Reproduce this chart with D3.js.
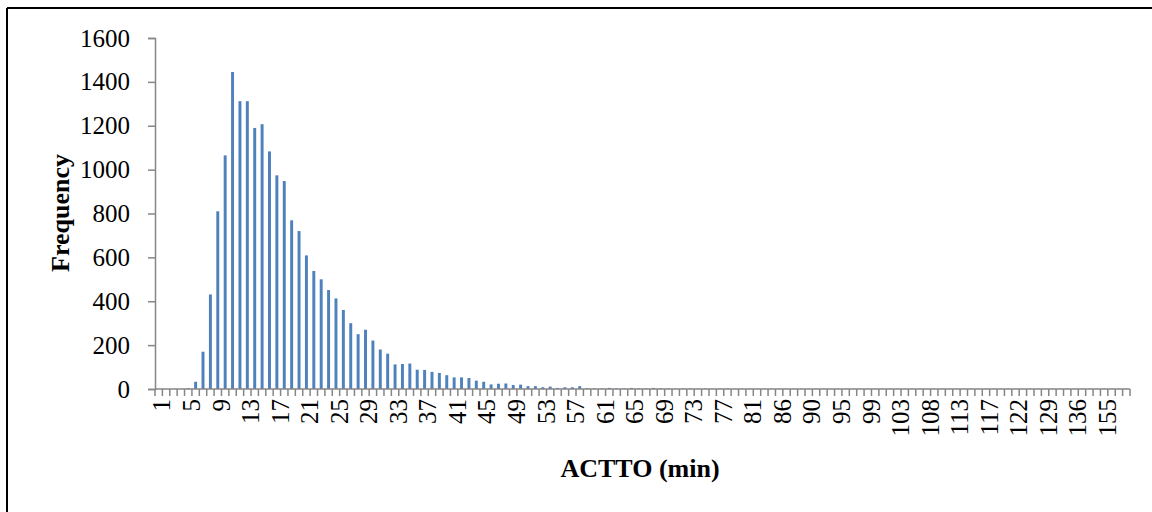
<!DOCTYPE html>
<html>
<head>
<meta charset="utf-8">
<script src="https://cdn.jsdelivr.net/npm/d3@7"></script>
<style>
html, body { margin: 0; padding: 0; background: #fff; }
svg { display: block; }
</style>
</head>
<body>
<svg id="chart" width="1152" height="512"></svg>
<script>
// ---- data ----
const categories = [
  1,2,3,4,5,6,7,8,9,10,11,12,13,14,15,16,17,18,19,20,
  21,22,23,24,25,26,27,28,29,30,31,32,33,34,35,36,37,38,39,40,
  41,42,43,44,45,46,47,48,49,50,51,52,53,54,55,56,57,58,59,60,
  61,62,63,64,65,66,67,68,69,70,71,72,73,74,75,76,77,78,79,80,81,
  82,83,84,86, 87,88,89,90, 91,92,93,95, 96,97,98,99,
  100,101,102,103, 104,105,107,108, 109,110,111,113, 114,115,116,117,
  118,119,120,122, 123,125,127,129, 130,132,134,136, 139,143,148,155,
  160,168,181
];
const frequency = [
  0,0,0,0,4,33,170,431,810,1065,1445,1312,1312,1190,1207,1083,974,948,769,720,
  609,538,500,451,413,360,300,250,270,221,180,161,112,114,116,88,87,78,73,63,
  53,53,50,38,33,21,24,25,18,20,13,13,8,11,5,8,8,13,4,3,
  2,5,3,2,5,2,2,5,3,2,1,2,2,1,2,1,1,2,1,1,1,
  1,1,1,1, 1,1,1,1, 1,1,1,1, 1,1,1,1,
  1,1,1,1, 1,1,1,1, 1,1,1,1, 1,1,1,1,
  1,1,1,1, 1,1,1,1, 1,1,1,1, 1,1,1,1,
  1,1,1
];
const yTicks = [0,200,400,600,800,1000,1200,1400,1600];
const xTitle = "ACTTO (min)";
const yTitle = "Frequency";

// ---- layout ----
const svg = d3.select("#chart");
const mLeft = 155, mRight = 1130, mTop = 38, mBottom = 389;
const axisColor = "#868686";
const font = "'Liberation Serif', 'Times New Roman', serif";

// frame (top and left edges visible)
svg.append("line").attr("x1", 7).attr("x2", 1152).attr("y1", 8).attr("y2", 8)
  .attr("stroke", "#000").attr("stroke-width", 2);
svg.append("line").attr("x1", 7).attr("x2", 7).attr("y1", 8).attr("y2", 512)
  .attr("stroke", "#000").attr("stroke-width", 2);

const xb = d3.scaleBand().domain(categories.map(String)).range([mLeft, mRight]).padding(0);
const y = d3.scaleLinear().domain([0, 1600]).range([mBottom, mTop]);

// bars
svg.append("g").selectAll("rect").data(categories).join("rect")
  .attr("x", (d) => xb(String(d)) + xb.bandwidth() * 0.3)
  .attr("width", xb.bandwidth() * 0.4)
  .attr("y", (d, i) => y(frequency[i]))
  .attr("height", (d, i) => y(0) - y(frequency[i]))
  .attr("fill", "#4F81BD");

// y axis
const yAxis = d3.axisLeft(y).tickValues(yTicks).tickSize(7).tickPadding(18).tickFormat(d3.format("d"));
const gy = svg.append("g").attr("transform", `translate(${mLeft},0)`).call(yAxis);
gy.select(".domain").attr("stroke", axisColor).attr("stroke-width", 1.5);
gy.selectAll(".tick line").attr("stroke", axisColor).attr("stroke-width", 1.5);
gy.selectAll(".tick text").attr("font-family", font).attr("font-size", 25).attr("fill", "#000");

// x axis: tick marks at category boundaries
const boundaries = categories.map((c) => xb(String(c))).concat([mRight]);
const gx = svg.append("g");
gx.append("line").attr("x1", mLeft).attr("x2", mRight).attr("y1", mBottom).attr("y2", mBottom)
  .attr("stroke", axisColor).attr("stroke-width", 1.5);
gx.selectAll("line.tk").data(boundaries).join("line").attr("class", "tk")
  .attr("x1", (d) => d).attr("x2", (d) => d).attr("y1", mBottom).attr("y2", mBottom + 7)
  .attr("stroke", axisColor).attr("stroke-width", 1.5);
// labels every 4th category
const labeled = categories.filter((c, i) => i % 4 === 0);
gx.selectAll("text").data(labeled).join("text")
  .attr("transform", (d) => `translate(${xb(String(d)) + xb.bandwidth() / 2 + 3},${mBottom + 10}) rotate(-90)`)
  .attr("text-anchor", "end")
  .attr("dy", "0.35em")
  .attr("font-family", font).attr("font-size", 25).attr("fill", "#000")
  .text((d) => d);

// titles
svg.append("text").attr("x", 640).attr("y", 477).attr("text-anchor", "middle")
  .attr("font-family", font).attr("font-size", 26).attr("font-weight", "bold").text(xTitle);
svg.append("text").attr("transform", "translate(69,213) rotate(-90)").attr("text-anchor", "middle")
  .attr("font-family", font).attr("font-size", 26).attr("font-weight", "bold").text(yTitle);
</script>
</body>
</html>
